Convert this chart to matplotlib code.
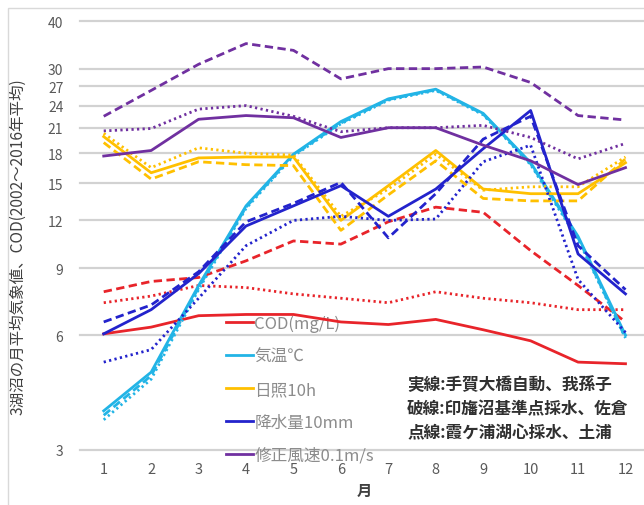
import numpy as np
import matplotlib.pyplot as plt
from matplotlib.lines import Line2D
from matplotlib.patches import Rectangle
from matplotlib.ticker import FixedLocator, FixedFormatter, NullLocator

plt.rcParams['font.family'] = ['Noto Sans CJK JP', 'DejaVu Sans']

# =============================================================================
# Monthly means 2002-2016 (solid: 手賀沼, dashed: 印旛沼, dotted: 霞ケ浦)
# =============================================================================
months = np.arange(1, 13)

cod_solid  = [6.05, 6.3, 6.75, 6.8, 6.8, 6.5, 6.4, 6.6, 6.2, 5.8, 5.1, 5.05]
cod_dashed = [7.8, 8.3, 8.5, 9.4, 10.6, 10.4, 11.9, 13.0, 12.6, 10.0, 8.1, 6.5]
cod_dotted = [7.3, 7.6, 8.1, 8.0, 7.7, 7.5, 7.3, 7.8, 7.5, 7.3, 7.0, 7.0]

temp_solid  = [3.8, 4.8, 8.1, 13.1, 17.9, 21.8, 25.0, 26.5, 22.9, 17.0, 10.9, 6.0]
temp_dashed = [3.7, 4.7, 8.0, 13.0, 17.8, 21.6, 24.9, 26.4, 22.8, 16.9, 10.8, 5.9]
temp_dotted = [3.6, 4.6, 7.9, 12.9, 17.7, 21.5, 24.8, 26.3, 22.7, 16.8, 10.7, 5.9]

sun_solid  = [19.9, 16.0, 17.5, 17.6, 17.6, 12.0, 14.8, 18.3, 14.5, 14.1, 14.1, 17.0]
sun_dashed = [19.2, 15.4, 17.1, 16.8, 16.7, 11.3, 14.0, 17.2, 13.7, 13.5, 13.5, 17.4]
sun_dotted = [20.3, 16.5, 18.6, 18.0, 17.8, 12.3, 14.5, 17.9, 14.4, 14.7, 14.7, 17.6]

rain_solid  = [6.05, 7.0, 8.7, 11.6, 13.1, 14.8, 12.3, 14.5, 18.5, 23.3, 9.8, 7.7]
rain_dashed = [6.5, 7.2, 8.8, 11.9, 13.3, 15.1, 10.8, 14.1, 19.6, 22.5, 10.3, 7.9]
rain_dotted = [5.1, 5.5, 7.5, 10.3, 12.0, 12.3, 12.0, 12.1, 17.1, 18.9, 8.4, 6.1]

wind_solid  = [17.7, 18.3, 22.1, 22.6, 22.3, 19.8, 21.0, 21.0, 18.9, 17.2, 14.9, 16.5]
wind_dashed = [22.5, 26.3, 30.8, 34.9, 33.5, 28.2, 30.0, 30.0, 30.3, 27.6, 22.6, 22.0]
wind_dotted = [20.6, 20.9, 23.5, 24.0, 22.5, 20.5, 21.0, 21.0, 21.3, 19.8, 17.4, 19.1]

labels = ['COD(mg/L)', '気温℃', '日照10h', '降水量10mm', '修正風速0.1m/s']
colors = ['#E8242A', '#22B4E6', '#FFC000', '#2323CC', '#7030A0']
series = [
    (cod_solid, cod_dashed, cod_dotted),
    (temp_solid, temp_dashed, temp_dotted),
    (sun_solid, sun_dashed, sun_dotted),
    (rain_solid, rain_dashed, rain_dotted),
    (wind_solid, wind_dashed, wind_dotted),
]

y_ticks = [3, 6, 9, 12, 15, 18, 21, 24, 27, 30, 40]
notes = ['実線:手賀大橋自動、我孫子',
         '破線:印旛沼基準点採水、佐倉',
         '点線:霞ケ浦湖心採水、土浦']

# line styles for the three stations
styles = ['-', (0, (3.0, 1.6)), (0, (0.8, 1.2))]

# =============================================================================
# Figure
# =============================================================================
W, H = 644, 506
fig = plt.figure(figsize=(W / 100, H / 100), dpi=100)
ax = fig.add_axes([80 / W, 55 / H, 1 - 80 / W, (451 - 22) / H])

for yv in y_ticks:
    ax.axhline(yv, color='#D2D2D2', lw=1.6, zorder=0, clip_on=False)

for color, trio in zip(colors, series):
    for vals, ls in zip(trio, styles):
        ax.plot(months, vals, color=color, linestyle=ls, lw=2.0, zorder=3)

ax.set_yscale('log')
ax.set_ylim(3, 40)
ax.set_xlim(0.5, 12.39)
ax.yaxis.set_major_locator(FixedLocator(y_ticks))
ax.yaxis.set_major_formatter(FixedFormatter([str(v) for v in y_ticks]))
ax.yaxis.set_minor_locator(NullLocator())
ax.set_xticks(months)
ax.tick_params(axis='y', length=0, pad=12, labelsize=10, labelcolor='#595959')
ax.tick_params(axis='x', length=0, pad=9, labelsize=10.5, labelcolor='#595959')
for s in ax.spines.values():
    s.set_visible(False)

handles = [Line2D([], [], color=c, lw=2.0) for c in colors]
leg = ax.legend(handles, labels, loc='upper left',
                bbox_to_anchor=(226 / W, 1 - 316 / H),
                bbox_transform=fig.transFigure, frameon=False,
                fontsize=12, handlelength=1.6, handletextpad=0.1,
                labelspacing=0.95, borderpad=0, borderaxespad=0,
                labelcolor='#8C8C8C')
leg.set_zorder(1)

for i, txt in enumerate(notes):
    fig.text(407 / W, 1 - (385 + 24 * i) / H, txt, ha='left', va='center',
             fontsize=12, fontweight='bold', color='#303030')

fig.text(18 / W, 1 - 247 / H, '3湖沼の月平均気象値、COD(2002～2016年平均)',
         rotation=90, ha='center', va='center', fontsize=11.2, color='#404040')
fig.text(364 / W, 1 - 491 / H, '月', ha='center', va='center',
         fontsize=11, fontweight='bold', color='#404040')

# light outer frame
fig.add_artist(Rectangle((8 / W, -0.1), 1.2, 1 - 9 / H + 0.1,
                         transform=fig.transFigure, fill=False,
                         edgecolor='#D9D9D9', lw=1.0))

fig.savefig('out.png', dpi=100)
